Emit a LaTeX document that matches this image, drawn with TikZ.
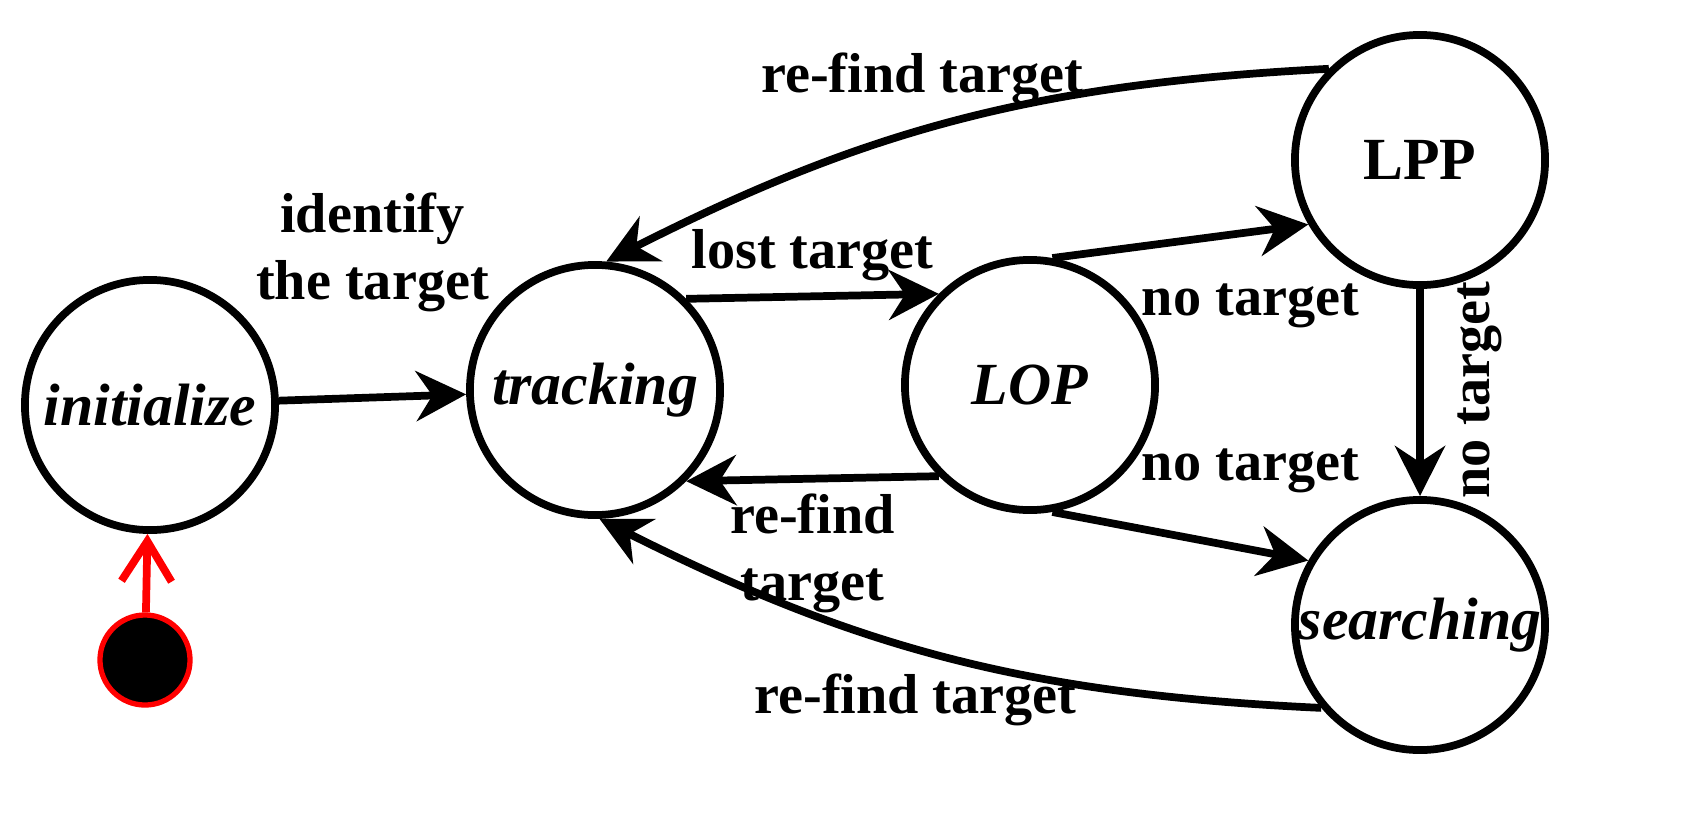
\documentclass[tikz,border=0pt]{standalone}
\usepackage{fontspec}
\setmainfont{Liberation Serif}
\usetikzlibrary{arrows.meta}
\begin{document}
\begin{tikzpicture}[x=0.01cm,y=-0.01cm, state/.style = {draw, circle, line width=2.2pt, minimum size=2.5cm, inner sep=0pt, font=\fontsize{17}{19}\selectfont\bfseries\itshape}, lbl/.style = {font=\fontsize{16}{19}\selectfont\bfseries, align=center}, every path/.style = {line width=2.2pt}]
            \useasboundingbox (0,0) rectangle (1685,836);
            \node[state] (I) at (150,405) {initialize};
            \node[state] (T) at (595,390) {tracking};
            \node[state] (L) at (1030,385) {LOP};
            \node[state, font=\fontsize{17}{19}\selectfont\bfseries] (P) at (1420,160) {LPP};
            \node[state] (S) at (1420,625) {searching};
            \node[draw=red, fill=black, circle, minimum size=0.9cm, line width=1.5pt] (st) at (145,660) {};

            \draw[-{Straight Barb[length=4mm,width=5mm]}, red, line width=2pt] (st) edge (I);
            \path[-{Stealth[length=5mm,width=5mm]}] (I) edge node[lbl, above, yshift=7mm] {identify\\the target} (T);
            \path[-{Stealth[length=5mm,width=5mm]}] (T.45) edge node[lbl, above] {lost target} (L.135);
            \path[-{Stealth[length=5mm,width=5mm]}] (L.-135) edge node[lbl, below] {re-find\\target} (T.-45);
            \path[-{Stealth[length=5mm,width=5mm]}] (L.80) edge node[lbl, pos=0.5, xshift=7mm, yshift=-6.5mm] {no target} (P.-150);
            \path[-{Stealth[length=5mm,width=5mm]}] (L.-80) edge node[lbl, pos=0.5, xshift=7mm, yshift=6.5mm] {no target} (S.150);
            \path[-{Stealth[length=5mm,width=5mm]}] (P) edge (S);
            \node[lbl, rotate=90] (nt) at (1480,390) {no target};
            \path[-{Stealth[length=5mm,width=5mm]}] (P.135) edge [bend right=12] node[lbl, above=1mm, pos=0.55] {re-find target} (T.85);
            \path[-{Stealth[length=5mm,width=5mm]}] (S.-140) edge [bend left=12] node[lbl, below=1mm, pos=0.55] {re-find target} (T.-88);
        \end{tikzpicture}
\end{document}
